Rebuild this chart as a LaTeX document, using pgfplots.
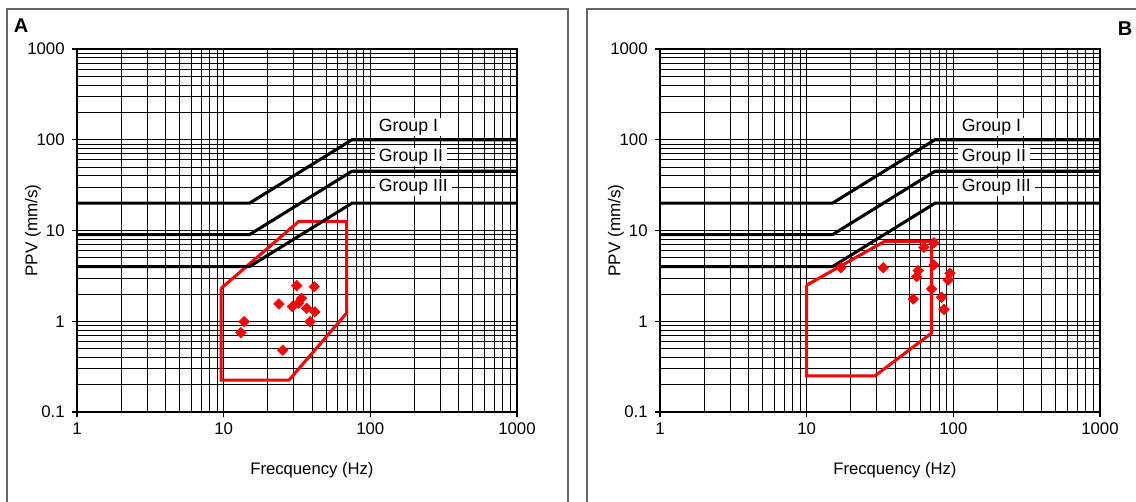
\documentclass[border=0pt]{standalone}
\usepackage{fontspec}
\setmainfont{Liberation Sans}
\usepackage{pgfplots}
\usepackage{pgfplotstable}
\pgfplotsset{compat=1.18}

\newcommand{\tl}[1]{{\fontsize{12.6}{14}\selectfont #1}}

% 1 px of the reference = 0.75pt
\pgfplotsset{
  grp/.style={black, line width=2.3pt, no marks},
  zone/.style={red, line width=2.3pt, no marks, line join=miter},
  pts/.style={only marks, mark=square*, mark size=2.8pt, mark options={rotate=45, fill=red, draw=red}},
}
\tikzset{glab/.style={fill=white, anchor=west, inner xsep=3pt, inner ysep=1pt, font=\fontsize{13.3}{15}\selectfont}}

\pgfplotstableread{
f v
31.5 2.47
41.5 2.40
23.8 1.55
34.0 1.79
32.3 1.58
29.4 1.45
36.8 1.39
41.9 1.27
38.8 0.99
13.8 0.99
13.1 0.75
25.3 0.48
}\ptsA

\pgfplotstableread{
f v
17.1 3.89
33.3 3.89
63.0 6.53
73.8 7.34
73.8 4.17
57.6 3.61
56.2 3.10
94.8 3.38
92.3 2.85
71.1 2.27
53.3 1.76
83.2 1.84
86.3 1.35
}\ptsB

\begin{document}
\begin{tikzpicture}
\useasboundingbox (0,0) rectangle (852pt,-375.75pt);
\begin{scope}[x=0.75pt,y=-0.75pt]
  \draw[gray!80!black, line width=1.1pt] (7,505)--(7,9)--(568,9)--(568,505);
  \draw[gray!80!black, line width=1.1pt] (587,505)--(587,9)--(1140,9);
  \node[font=\bfseries\fontsize{15}{17}\selectfont] at (21,26) {A};
  \node[font=\bfseries\fontsize{15}{17}\selectfont] at (1125,29) {B};
\end{scope}

\begin{axis}[at={(57.75pt,-309pt)}, anchor=south west,
    xmode=log, ymode=log,
    scale only axis,
    width=330pt, height=272.25pt,
    xmin=1, xmax=1000, ymin=0.1, ymax=1000,
    xtick={1,10,100,1000}, xticklabels={\tl{1},\tl{10},\tl{100},\tl{1000}},
    ytick={0.1,1,10,100,1000}, yticklabels={\tl{0.1},\tl{1},\tl{10},\tl{100},\tl{1000}},
    xtick pos=lower, ytick pos=left,
    grid=both,
    major grid style={black, line width=0.6pt},
    minor grid style={black, line width=0.6pt},
    axis line style={black, line width=0.8pt},
    tick style={black, line width=0.8pt},
    tick align=outside,
    major tick length=3.75pt, minor tick length=0pt,
    xticklabel style={yshift=-1pt},
    yticklabel style={xshift=-2pt},
    xlabel={Frecquency (Hz)}, ylabel={PPV (mm/s)},
    x label style={at={(axis description cs:0.534,-0.16)}, anchor=center, font=\fontsize{12.5}{15}\selectfont},
    y label style={at={(axis description cs:-0.1,0.5)}, anchor=center, font=\fontsize{12.8}{15}\selectfont},
    clip=false]
  \addplot[zone] coordinates {(9.6,2.3) (32.5,12.6) (69,12.6) (69,1.23) (27.9,0.225) (9.6,0.225) (9.6,2.3)};
  \addplot[grp] coordinates {(1,20) (15,20) (75,100) (1000,100)};
  \addplot[grp] coordinates {(1,9) (15,9) (75,45) (1000,45)};
  \addplot[grp] coordinates {(1,4) (15,4) (75,20) (1000,20)};
  \addplot[pts] table[x=f, y=v] {\ptsA};
  \node[glab] at (axis cs:107,138) {Group I};
  \node[glab] at (axis cs:107,64.6) {Group II};
  \node[glab] at (axis cs:107,30.1) {Group III};
\end{axis}

\begin{axis}[at={(495pt,-309pt)}, anchor=south west,
    xmode=log, ymode=log,
    scale only axis,
    width=330pt, height=272.25pt,
    xmin=1, xmax=1000, ymin=0.1, ymax=1000,
    xtick={1,10,100,1000}, xticklabels={\tl{1},\tl{10},\tl{100},\tl{1000}},
    ytick={0.1,1,10,100,1000}, yticklabels={\tl{0.1},\tl{1},\tl{10},\tl{100},\tl{1000}},
    xtick pos=lower, ytick pos=left,
    grid=both,
    major grid style={black, line width=0.6pt},
    minor grid style={black, line width=0.6pt},
    axis line style={black, line width=0.8pt},
    tick style={black, line width=0.8pt},
    tick align=outside,
    major tick length=3.75pt, minor tick length=0pt,
    xticklabel style={yshift=-1pt},
    yticklabel style={xshift=-2pt},
    xlabel={Frecquency (Hz)}, ylabel={PPV (mm/s)},
    x label style={at={(axis description cs:0.534,-0.16)}, anchor=center, font=\fontsize{12.5}{15}\selectfont},
    y label style={at={(axis description cs:-0.1,0.5)}, anchor=center, font=\fontsize{12.8}{15}\selectfont},
    clip=false]
  \addplot[zone] coordinates {(10,2.5) (34,7.6) (71,7.6) (71,0.74) (29.2,0.25) (10,0.25) (10,2.5)};
  \addplot[grp] coordinates {(1,20) (15,20) (75,100) (1000,100)};
  \addplot[grp] coordinates {(1,9) (15,9) (75,45) (1000,45)};
  \addplot[grp] coordinates {(1,4) (15,4) (75,20) (1000,20)};
  \addplot[pts] table[x=f, y=v] {\ptsB};
  \node[glab] at (axis cs:107,138) {Group I};
  \node[glab] at (axis cs:107,64.6) {Group II};
  \node[glab] at (axis cs:107,30.1) {Group III};
\end{axis}
\end{tikzpicture}
\end{document}
